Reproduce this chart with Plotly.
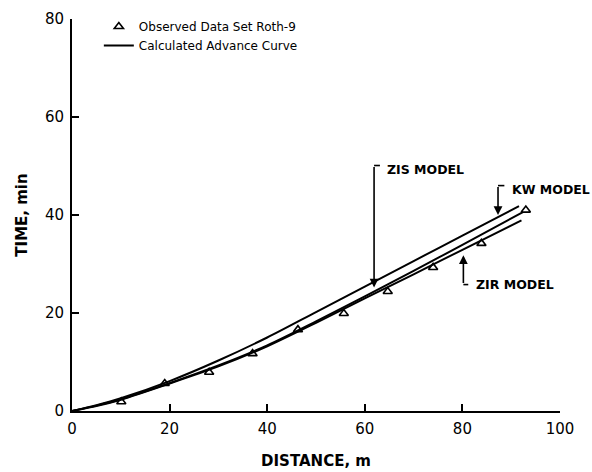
import plotly.graph_objects as go

# Observed data set Roth-9
obs_x = [10.1, 19.0, 28.1, 37.0, 46.3, 55.7, 64.7, 74.0, 83.9, 93.0]
obs_t = [1.9, 5.6, 7.9, 11.7, 16.6, 19.9, 24.4, 29.3, 34.2, 41.0]

# Calculated advance curves
kw_x = [0, 5, 10, 20, 30, 40, 50, 60, 70, 80, 91.6]
kw_t = [0, 1.2, 2.6, 6.1, 10.3, 15.0, 20.2, 25.4, 30.6, 35.8, 41.8]

zis_x = [0, 5, 10, 20, 30, 40, 50, 60, 70, 80, 92.4]
zis_t = [0, 1.1, 2.4, 5.7, 9.3, 13.4, 18.3, 23.4, 28.6, 33.9, 40.6]

zir_x = [0, 5, 10, 20, 30, 40, 50, 60, 70, 80, 92.1]
zir_t = [0, 1.0, 2.3, 5.6, 9.1, 13.2, 18.0, 23.0, 27.9, 32.9, 38.9]

x_ticks = [0, 20, 40, 60, 80, 100]
y_ticks = [0, 20, 40, 60, 80]

FONT = "DejaVu Sans"

fig = go.Figure()
fig.add_trace(go.Scatter(
    x=obs_x, y=obs_t, mode="markers", name="Observed Data Set Roth-9",
    marker=dict(symbol="triangle-up-open", size=8, color="black",
                line=dict(width=1.6, color="black")),
))
fig.add_trace(go.Scatter(x=kw_x, y=kw_t, mode="lines", name="Calculated Advance Curve",
                         line=dict(color="black", width=2, shape="spline", smoothing=0.8)))
fig.add_trace(go.Scatter(x=zis_x, y=zis_t, mode="lines", showlegend=False,
                         line=dict(color="black", width=2, shape="spline", smoothing=0.8)))
fig.add_trace(go.Scatter(x=zir_x, y=zir_t, mode="lines", showlegend=False,
                         line=dict(color="black", width=2, shape="spline", smoothing=0.8)))

# Model labels with leader arrows
labels = [
    # text, leader x, leader start y, arrow tip y, hook end x, text x, text y
    ("ZIS MODEL", 61.9, 50.1, 25.2, 63.1, 64.3, 49.2),
    ("KW MODEL", 87.3, 46.0, 40.0, 88.6, 90.0, 45.3),
    ("ZIR MODEL", 80.2, 25.8, 31.8, 81.2, 82.6, 25.8),
]
for text, lx, ly0, ly1, hx, tx, ty in labels:
    fig.add_annotation(x=lx, y=ly1, ax=lx, ay=ly0, xref="x", yref="y",
                       axref="x", ayref="y", text="", showarrow=True,
                       arrowhead=2, arrowsize=1.1, arrowwidth=1.6, arrowcolor="black")
    fig.add_shape(type="line", x0=lx, y0=ly0, x1=hx, y1=ly0, xref="x", yref="y",
                  line=dict(color="black", width=1.6))
    fig.add_annotation(x=tx, y=ty, xref="x", yref="y", text=text, showarrow=False,
                       xanchor="left", yanchor="middle", borderpad=0,
                       font=dict(family=FONT, size=12.5, color="black", weight="bold"))

axis_common = dict(
    showline=True, linewidth=2, linecolor="black", mirror=False,
    ticks="inside", ticklen=7, tickwidth=2, tickcolor="black",
    showgrid=False, zeroline=False, automargin=False,
    tickfont=dict(family=FONT, size=15, color="black"),
)

fig.update_layout(
    width=592, height=472,
    margin=dict(l=72, r=32, t=15, b=61),
    paper_bgcolor="white", plot_bgcolor="white",
    xaxis=dict(range=[0, 100], tickvals=x_ticks, ticklabelstandoff=3, **axis_common,
               title=dict(text="DISTANCE, m", standoff=18,
                          font=dict(family=FONT, size=15, color="black", weight="bold"))),
    yaxis=dict(range=[0, 80], tickvals=y_ticks, ticklabelstandoff=3, **axis_common,
               title=dict(text="TIME, min", standoff=14,
                          font=dict(family=FONT, size=15, color="black", weight="bold"))),
    legend=dict(x=0.055, y=1.018, xanchor="left", yanchor="top",
                bgcolor="rgba(0,0,0,0)", borderwidth=0, itemwidth=30,
                tracegroupgap=0,
                font=dict(family=FONT, size=12, color="black")),
    showlegend=True,
)

fig.write_html("out.html")
